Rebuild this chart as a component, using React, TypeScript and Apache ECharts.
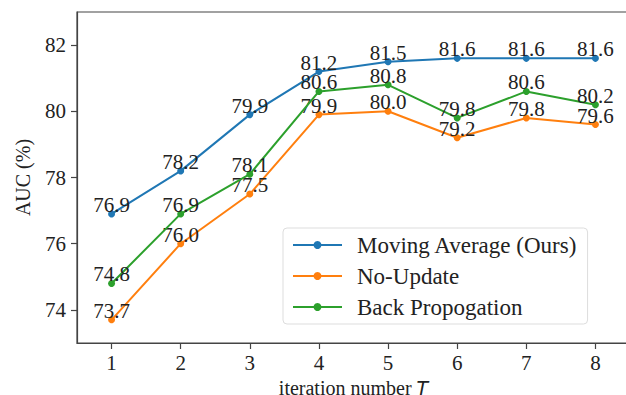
import React, { useEffect, useRef } from "react";
import * as echarts from "echarts";

const iterations = ["1", "2", "3", "4", "5", "6", "7", "8"];
const movingAverage = [76.9, 78.2, 79.9, 81.2, 81.5, 81.6, 81.6, 81.6];
const noUpdate = [73.7, 76.0, 77.5, 79.9, 80.0, 79.2, 79.8, 79.6];
const backProp = [74.8, 76.9, 78.1, 80.6, 80.8, 79.8, 80.6, 80.2];
const yTicks = [74, 76, 78, 80, 82];
const seriesNames = ["Moving Average (Ours)", "No-Update", "Back Propogation"];
const seriesColors = ["#1f77b4", "#ff7f0e", "#2ca02c"];

const FONT = "'Liberation Serif', 'Times New Roman', serif";

export default function App() {
  const ref = useRef<HTMLDivElement>(null);
  useEffect(() => {
    if (!ref.current) return;
    const chart = echarts.init(ref.current, undefined, { renderer: "svg" });
    const datasets = [movingAverage, noUpdate, backProp];
    chart.setOption({
      animation: false,
      backgroundColor: "#ffffff",
      textStyle: { fontFamily: FONT },
      grid: {
        left: 77,
        top: 12,
        width: 553,
        height: 331,
        show: true,
        borderColor: "#444",
        borderWidth: 1.2,
        containLabel: false,
        outerBoundsMode: "none",
      },
      legend: {
        orient: "vertical",
        left: 283,
        top: 228,
        width: 308,
        padding: [5, 10, 5, 9],
        itemWidth: 49,
        itemHeight: 10,
        itemGap: 7,
        backgroundColor: "#fff",
        borderColor: "#ddd",
        borderWidth: 1,
        borderRadius: 4,
        textStyle: {
          fontFamily: FONT,
          fontSize: 23,
          lineHeight: 24,
          color: "#222",
          padding: [0, 0, 0, 10],
        },
        data: seriesNames,
      },
      xAxis: {
        type: "category",
        data: iterations,
        boundaryGap: true,
        name: "{a|iteration number }{b|T}",
        nameLocation: "middle",
        nameGap: 31,
        nameTextStyle: {
          rich: {
            a: { fontFamily: FONT, fontSize: 20, color: "#222" },
            b: { fontFamily: "'DejaVu Sans'", fontStyle: "italic", fontSize: 19, color: "#222" },
          },
        },
        axisLine: { show: true, lineStyle: { color: "#444", width: 1.2 } },
        axisTick: { show: true, alignWithLabel: true, length: 6, lineStyle: { color: "#444", width: 1.2 } },
        axisLabel: { fontFamily: FONT, fontSize: 21, color: "#222", margin: 9 },
        splitLine: { show: false },
      },
      yAxis: {
        type: "value",
        min: 73,
        max: 83,
        interval: 1,
        name: "AUC (%)",
        nameLocation: "middle",
        nameGap: 44,
        nameTextStyle: { fontFamily: FONT, fontSize: 20, color: "#222" },
        axisLine: { show: true, lineStyle: { color: "#444", width: 1.2 } },
        axisTick: {
          show: true,
          length: 6,
          lineStyle: { color: "#444", width: 1.2 },
          customValues: yTicks,
        },
        axisLabel: {
          fontFamily: FONT,
          fontSize: 21,
          color: "#222",
          margin: 11,
          customValues: yTicks,
        },
        splitLine: { show: false },
      },
      series: datasets.map((d, i) => ({
        name: seriesNames[i],
        type: "line",
        data: d,
        color: seriesColors[i],
        symbol: "circle",
        symbolSize: 7,
        lineStyle: { width: 2, color: seriesColors[i] },
        itemStyle: { color: seriesColors[i] },
        label: {
          show: true,
          position: "top",
          distance: -5,
          fontFamily: FONT,
          fontSize: 21,
          color: "#222",
          formatter: (p: any) => Number(p.value).toFixed(1),
        },
        z: 3 + i,
      })),
    });
    return () => chart.dispose();
  }, []);
  return (
    <div
      ref={ref}
      style={{ position: "fixed", left: 0, top: 0, width: 626, height: 395 }}
    />
  );
}
